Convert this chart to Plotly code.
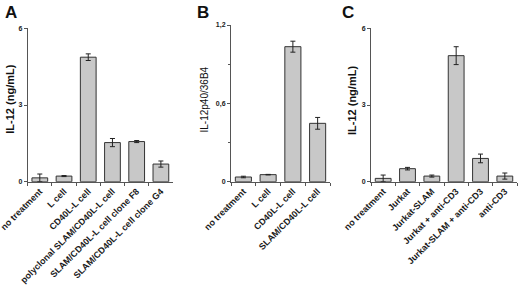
import plotly.graph_objects as go

cats_a = ["no treatment", "L cell", "CD40L-L cell", "polyclonal SLAM/CD40L-L cell",
          "SLAM/CD40L-L cell clone F8", "SLAM/CD40L-L cell clone G4"]
vals_a = [0.15, 0.22, 4.87, 1.53, 1.57, 0.69]
errs_a = [0.15, 0.02, 0.13, 0.16, 0.04, 0.12]

cats_b = ["no treatment", "L cell", "CD40L-L cell", "SLAM/CD40L-L cell"]
vals_b = [0.036, 0.054, 1.034, 0.447]
errs_b = [0.006, 0.002, 0.042, 0.045]

cats_c = ["no treatment", "Jurkat", "Jurkat-SLAM", "Jurkat + anti-CD3",
          "Jurkat-SLAM + anti-CD3", "anti-CD3"]
vals_c = [0.13, 0.51, 0.22, 4.93, 0.91, 0.22]
errs_c = [0.13, 0.05, 0.04, 0.35, 0.17, 0.12]

FONT = "Liberation Sans, Arial, sans-serif"
BAR = "#c8c8c8"
LINE = "#333333"
AX = "#555555"

fig = go.Figure()

def add_bars(cats, vals, errs, xa, ya):
    fig.add_trace(go.Bar(
        x=cats, y=vals, xaxis=xa, yaxis=ya, width=0.65,
        marker=dict(color=BAR, line=dict(color=LINE, width=1)),
        error_y=dict(type="data", array=errs, visible=True, color="#222222",
                     thickness=1, width=2.5),
        showlegend=False,
    ))

add_bars(cats_a, vals_a, errs_a, "x", "y")
add_bars(cats_b, vals_b, errs_b, "x2", "y2")
add_bars(cats_c, vals_c, errs_c, "x3", "y3")

W, H = 520, 291
def xd(a, b):
    return [a / W, b / W]
def yd(top, bottom):
    return [1 - bottom / H, 1 - top / H]

xcommon = dict(showline=True, linecolor=AX, linewidth=1, ticks="outside",
               tickson="boundaries", ticklen=3, tickcolor=AX, tickangle=-45,
               tickfont=dict(family=FONT, size=9, color="#1a1a1a", weight="bold"),
               showgrid=False, zeroline=False, automargin=False)
ycommon = dict(showline=True, linecolor=AX, linewidth=1, ticks="outside",
               ticklen=3, tickcolor=AX,
               tickfont=dict(family=FONT, size=7, color="#1a1a1a", weight="bold"),
               showgrid=False, zeroline=False, automargin=False)

fig.update_layout(
    width=W, height=H,
    margin=dict(l=0, r=0, t=0, b=0, autoexpand=False),
    paper_bgcolor="white", plot_bgcolor="white",
    bargap=0.35,
    xaxis=dict(domain=xd(27.7, 173), anchor="y", range=[-0.5, 5.5], **xcommon),
    yaxis=dict(domain=yd(28.3, 181.7), anchor="x", range=[0, 6],
               tickvals=[0, 3, 6], ticktext=["0", "3", "6"], **ycommon),
    xaxis2=dict(domain=xd(231, 330), anchor="y2", range=[-0.5, 3.5], **xcommon),
    yaxis2=dict(domain=yd(25, 181.7), anchor="x2", range=[0, 1.2],
                tickvals=[0, 0.6, 1.2], ticktext=["0", "0,6", "1,2"],
                minor=dict(tickvals=[0.3, 0.9], ticks="outside", ticklen=2,
                           tickcolor=AX),
                **ycommon),
    xaxis3=dict(domain=xd(371, 517), anchor="y3", range=[-0.5, 5.5], **xcommon),
    yaxis3=dict(domain=yd(28.3, 181.7), anchor="x3", range=[0, 6],
                tickvals=[0, 3, 6], ticktext=["0", "3", "6"], **ycommon),
)

# y-axis titles
for text, x, y, size in [("<b>IL-12 (ng/mL)</b>", 9.7, 99, 11),
                         ("IL-12p40/36B4", 203.5, 100, 10),
                         ("<b>IL-12 (ng/mL)</b>", 352, 101, 11)]:
    fig.add_annotation(text=text, xref="paper", yref="paper",
                       x=x / W, y=1 - y / H, xanchor="center", yanchor="middle",
                       textangle=-90, showarrow=False,
                       font=dict(family=FONT, size=size, color="#111111"))

for letter, x in [("A", 3), ("B", 195), ("C", 340)]:
    fig.add_annotation(text="<b>" + letter + "</b>", xref="paper", yref="paper",
                       x=x / W, y=1 - 1 / H, xanchor="left", yanchor="top",
                       showarrow=False,
                       font=dict(family=FONT, size=17, color="#111111"))

fig.write_html("out.html",
               config={"displayModeBar": False},
               post_script="document.body.style.margin='0px';document.body.style.padding='0px';")
